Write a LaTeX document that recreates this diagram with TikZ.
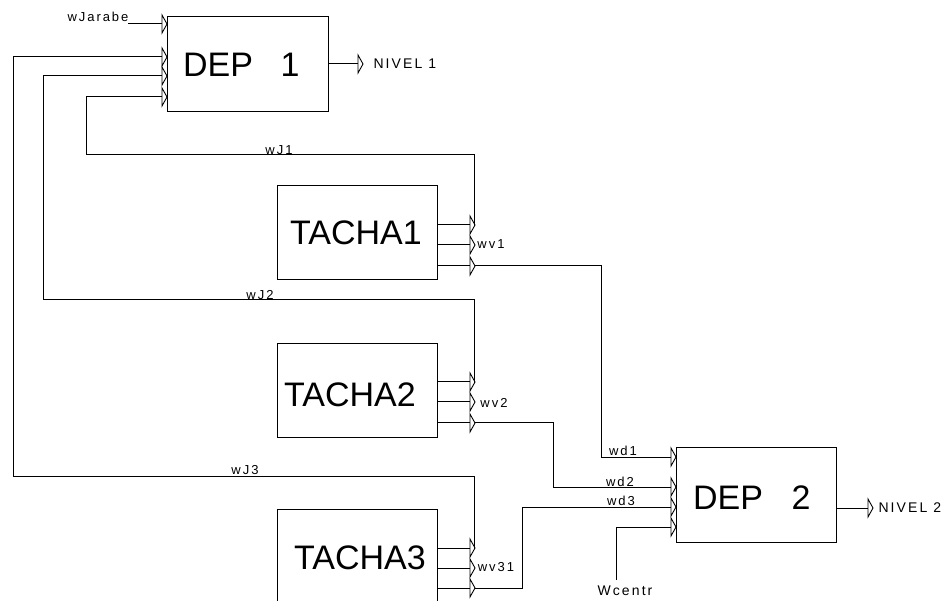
\documentclass[tikz,border=0pt]{standalone}
\usepackage{fontspec}
\setmainfont{Liberation Sans}
\newfontfamily\lblfont{Liberation Sans}[LetterSpace=15]
\begin{document}
\begin{tikzpicture}[x=1pt,y=-1pt,line width=1pt,line join=miter,
  blk/.style={draw,line width=1pt,minimum width=160pt,minimum height=94pt,inner sep=0pt},
  big/.style={font=\fontsize{34}{34}\selectfont,inner sep=0pt},
  lbl/.style={font=\lblfont\fontsize{13}{13}\selectfont,inner sep=0pt},
  nivel/.style={font=\lblfont\fontsize{14}{14}\selectfont,inner sep=0pt,anchor=west},
  port/.pic={\draw[line width=0.9pt] (0,-9)--(5,0)--(0,9)--cycle;}]
\useasboundingbox (0,0) rectangle (948,601);
\clip (0,0) rectangle (948,601);
% blocks
\node[blk,minimum width=161pt,minimum height=95pt] (dep1) at (247.5,64.5) {};
\node[blk] (tacha1) at (357,233) {};
\node[blk] (tacha2) at (357,391) {};
\node[blk] (tacha3) at (357,556) {};
\node[blk] (dep2) at (756,495) {};
% block texts
\node[big] (dep1txt) at (218,65) {DEP};
\node[big] (dep1num) at (290,65) {1};
\node[big] (t1txt) at (356,233) {TACHA1};
\node[big] (t2txt) at (350,395) {TACHA2};
\node[big] (t3txt) at (360,558) {TACHA3};
\node[big] (dep2txt) at (728,498) {DEP};
\node[big] (dep2num) at (801,498) {2};
% ports DEP1
\coordinate (d1a) at (162,24);
\coordinate (d1b) at (162,57);
\coordinate (d1c) at (162,76);
\coordinate (d1d) at (162,97);
\foreach \p in {d1a,d1b,d1c,d1d} \pic at (\p) {port};
% output DEP1
\coordinate (o1) at (358,64);
\pic at (o1) {port};
\draw (o1 -| dep1.east) -- (o1);
\node[nivel] (niv1) at (373,64) {NIVEL 1};
% wJarabe
\coordinate (wjar) at (128,24);
\draw (wjar) -- (d1a);
\node[lbl] (wjarl) at (98,17) {wJarabe};
% TACHA ports
\coordinate (t1a) at (470,225);
\coordinate (t1b) at (470,245);
\coordinate (t1c) at (470,266);
\coordinate (t2a) at (470,382);
\coordinate (t2b) at (470,402);
\coordinate (t2c) at (470,423);
\coordinate (t3a) at (470,548);
\coordinate (t3b) at (470,568);
\coordinate (t3c) at (470,588);
\foreach \p in {t1a,t1b,t1c,t2a,t2b,t2c,t3a,t3b,t3c} {
  \pic at (\p) {port};
}
\draw (t1a -| tacha1.east) -- (t1a);
\draw (t1b -| tacha1.east) -- (t1b);
\draw (t1c -| tacha1.east) -- (t1c);
\draw (t2a -| tacha2.east) -- (t2a);
\draw (t2b -| tacha2.east) -- (t2b);
\draw (t2c -| tacha2.east) -- (t2c);
\draw (t3a -| tacha3.east) -- (t3a);
\draw (t3b -| tacha3.east) -- (t3b);
\draw (t3c -| tacha3.east) -- (t3c);
% top port tips
\coordinate (t1top) at (474,226);
\coordinate (t2top) at (474,383);
\coordinate (t3top) at (474,549);
% wJ feedback lines
\coordinate (b1) at (86,155);
\coordinate (b2) at (43,300);
\coordinate (b3) at (13,476);
\draw (d1d) -| (b1) -| (t1top);
\draw (d1c) -| (b2) -| (t2top);
\draw (d1b) -| (b3) -| (t3top);
\node[lbl] (wj1) at (279,150) {wJ1};
\node[lbl] (wj2) at (260,295) {wJ2};
\node[lbl] (wj3) at (245,470) {wJ3};
\node[lbl] (wv1) at (491,244) {wv1};
\node[lbl] (wv2) at (494,403) {wv2};
\node[lbl] (wv31) at (496,567) {wv31};
% DEP2 ports
\coordinate (dd1) at (671,457);
\coordinate (dd2) at (671,487);
\coordinate (dd3) at (671,507);
\coordinate (dd4) at (671,527);
\foreach \p in {dd1,dd2,dd3,dd4} \pic at (\p) {port};
% wires to DEP2
\coordinate (t1co) at (475,266);
\coordinate (t2co) at (475,423);
\coordinate (t3co) at (475,588);
\coordinate (j1) at (601,457);
\coordinate (j2) at (553,487);
\coordinate (j3) at (522,507);
\coordinate (wc) at (616,580);
\draw (t1co) -| (j1) -- (dd1);
\draw (t2co) -| (j2) -- (dd2);
\draw (t3co) -| (j3) -- (dd3);
\draw (wc) |- (dd4);
\node[lbl] (wd1) at (623,451) {wd1};
\node[lbl] (wd2) at (620,482) {wd2};
\node[lbl] (wd3) at (621,501) {wd3};
\node[lbl,font=\lblfont\fontsize{14}{14}\selectfont] (wcl) at (625,591) {Wcentr};
% output DEP2
\coordinate (o2) at (868,508);
\pic at (o2) {port};
\draw (o2 -| dep2.east) -- (o2);
\node[nivel] (niv2) at (878,508) {NIVEL 2};
\end{tikzpicture}
\end{document}
